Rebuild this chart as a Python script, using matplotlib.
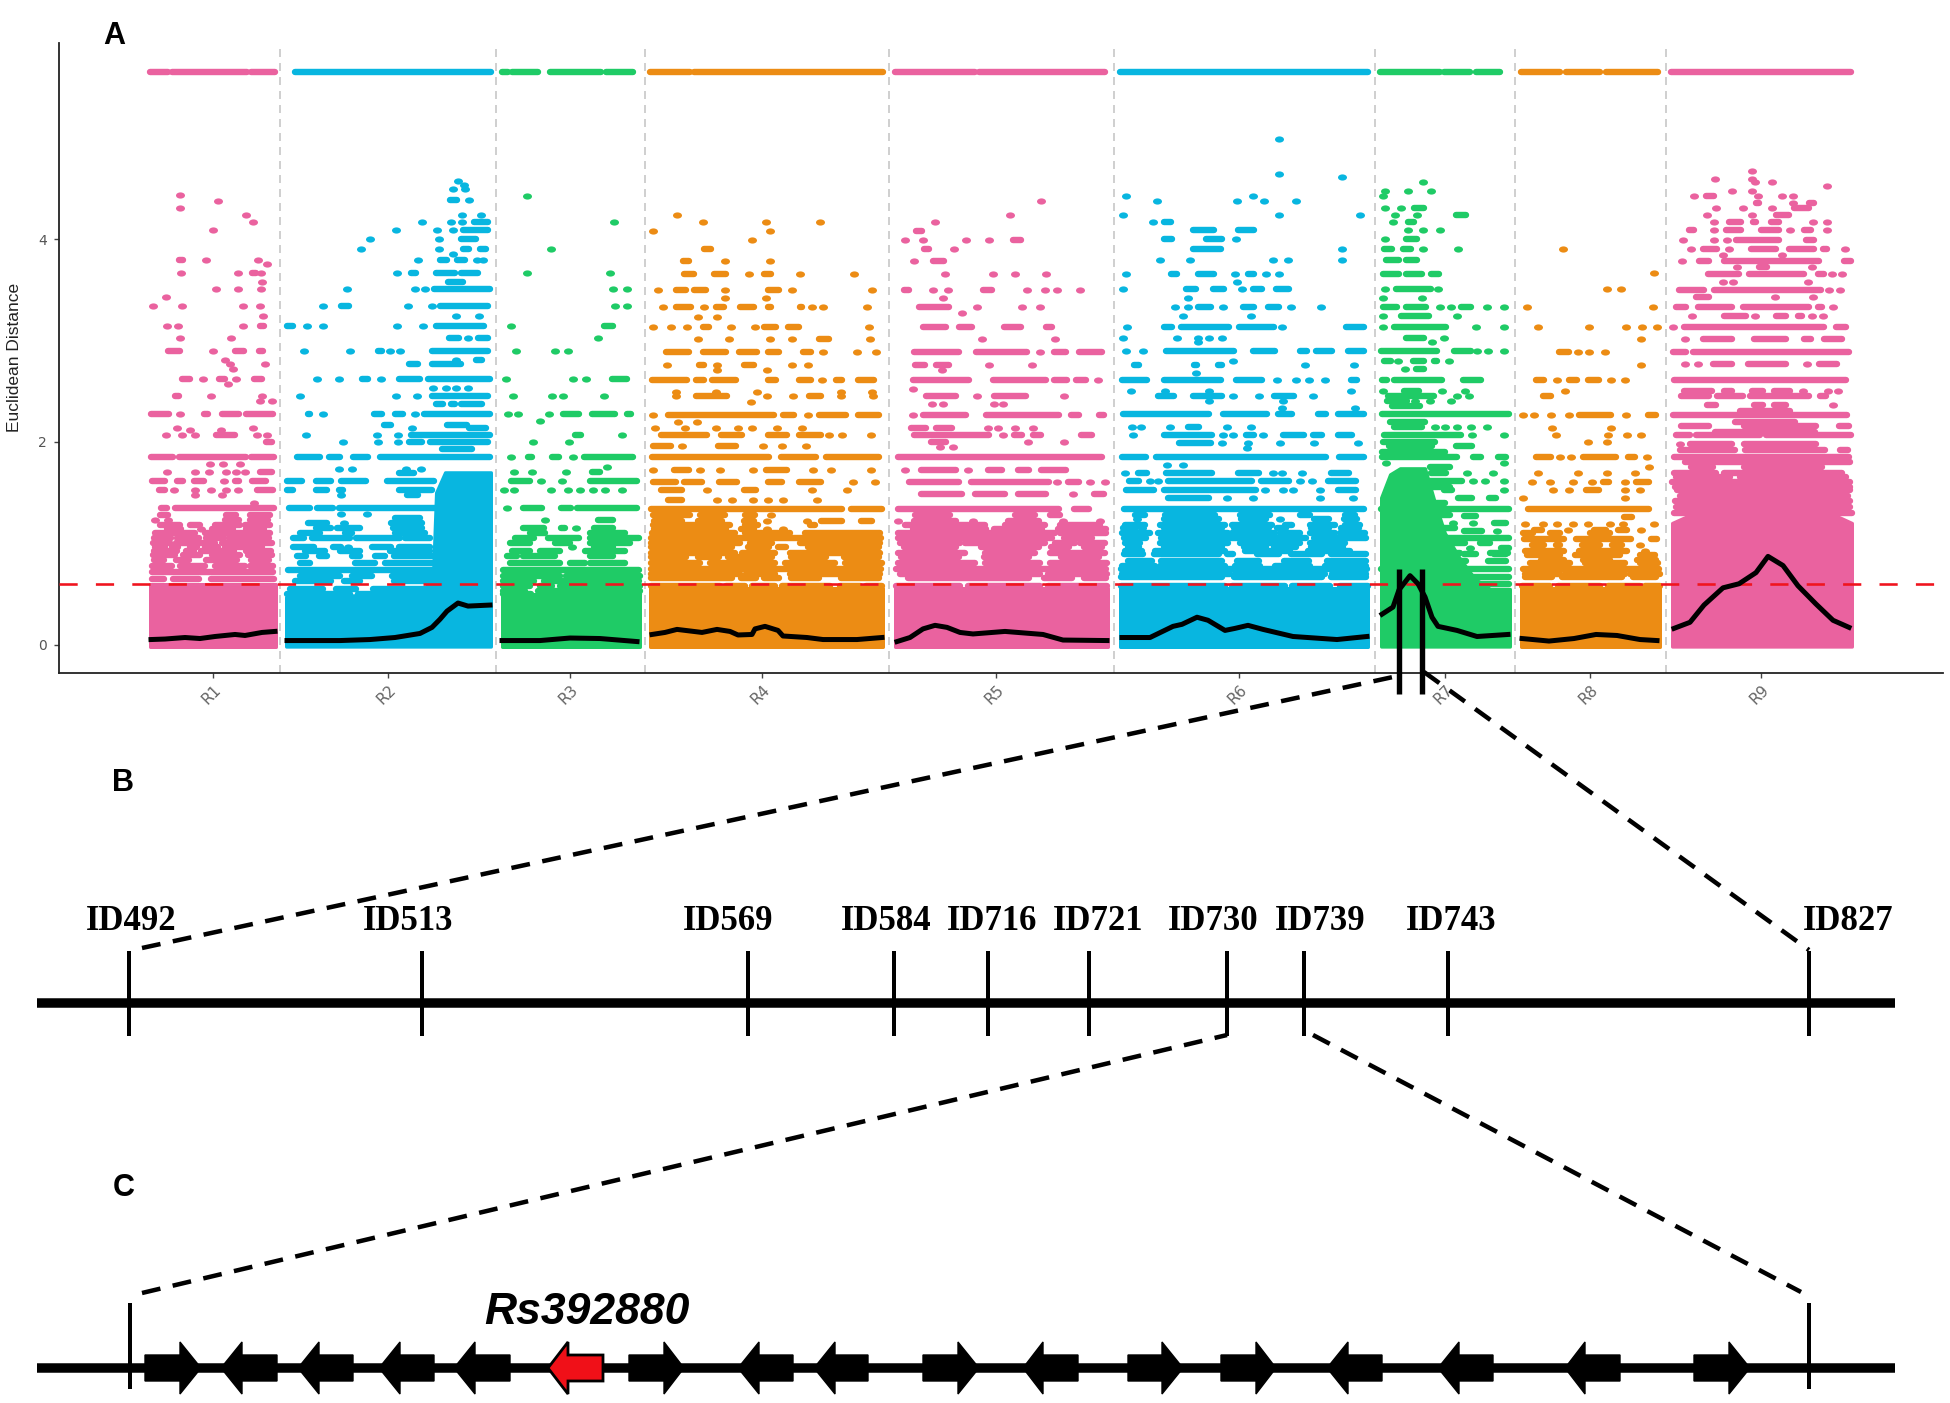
import matplotlib
matplotlib.use("Agg")
import matplotlib.pyplot as plt
from matplotlib.path import Path
from matplotlib.transforms import Affine2D

PINK = "#EA629F"
BLUE = "#08B6E0"
GREEN = "#1FCB66"
ORANGE = "#EC8C14"

regions = ["R1", "R2", "R3", "R4", "R5", "R6", "R7", "R8", "R9"]
region_colors = [PINK, BLUE, GREEN, ORANGE, PINK, BLUE, GREEN, ORANGE, PINK]
region_ticks = [213, 388, 570, 762, 996, 1239, 1445, 1590, 1761]
region_bounds = [280, 496, 645, 889, 1114, 1375, 1515, 1666]

# run of markers along the top (every locus)
top_value = 5.65
top_runs = [
    [(150, 168), (172, 247), (251, 275)],
    [(295, 491)],
    [(502, 508), (512, 538), (550, 601), (606, 633)],
    [(650, 690), (694, 883)],
    [(895, 975), (979, 1105)],
    [(1120, 1368)],
    [(1380, 1440), (1444, 1470), (1476, 1500)],
    [(1521, 1560), (1566, 1600), (1606, 1658)],
    [(1671, 1851)],
]

# solid part of each region: x position, upper edge
bulk_x = [
    [150, 276],
    [286, 330, 400, 425, 433, 436, 445, 491],
    [502, 640],
    [650, 883],
    [895, 1108],
    [1120, 1368],
    [1381, 1390, 1400, 1425, 1435, 1445, 1460, 1475, 1490, 1510],
    [1521, 1660],
    [1672, 1690, 1720, 1750, 1760, 1790, 1830, 1852],
]
bulk_top = [
    [0.6, 0.6],
    [0.47, 0.48, 0.5, 0.55, 0.7, 1.5, 1.7, 1.7],
    [0.5, 0.5],
    [0.56, 0.56],
    [0.56, 0.56],
    [0.56, 0.56],
    [1.45, 1.68, 1.74, 1.74, 1.4, 1.1, 0.85, 0.65, 0.55, 0.55],
    [0.56, 0.56],
    [1.2, 1.28, 1.35, 1.45, 1.5, 1.45, 1.3, 1.2],
]

# rows of points: (distance, items) with item = position or (from, to)
r1_rows = [
    (4.43, [179.5]), (4.37, [218]), (4.31, [179.5]), (4.24, [246]), (4.17, [253]), (4.09, [213]),
    (3.79, [(179, 183), 206, 258]), (3.75, [267]), (3.66, [181, 238, (252, 256), 261]), (3.58, [262]),
    (3.51, [216, 238, 261]), (3.43, [166]), (3.34, [152.5, 181.5, 243, 259.5]), (3.24, [263]),
    (3.14, [167, 178, 243, (260, 264)]), (3.02, [179.5, 230.5]),
    (2.9, [(168, 180), 213, (235, 244), (259, 263)]), (2.81, [225]), (2.77, [230, 265]), (2.72, [233]),
    (2.62, [(182, 190), 203, (219, 225), 235.5, (254, 262)]), (2.57, [228]),
    (2.45, [(175, 179), 211, 262]), (2.4, [260, 272]),
    (2.27, [(151, 169), 179.5, (204, 208), (222, 239), (246, 273)]), (2.14, [177, 253]), (2.12, [189.5, 220.5]),
    (2.07, [166, 181.5, 195, (216, 235), 257, 267]), (2.0, [(266, 272)]),
    (1.85, [(151, 173), (179, 246), (251, 274)]), (1.78, [210, 223, 240]),
    (1.7, [167, 195, 209, 226, 236, 245, (260, 272)]),
    (1.61, [(152, 165), (177, 183), (194, 204), 224, (235, 239), (252, 266)]),
    (1.52, [(159, 165), 174, 195, 211, 226, 238, (257, 273)]), (1.48, [195, 222]), (1.4, [254]),
    (1.35, [(161, 167), (175, 274)]), (1.23, [155, 168, (225, 239), (250, 268)]),
    (1.14, [(167, 181), 201, (212, 233), (246, 264)]),
    (1.05, [(154, 171), (177, 199), (206, 224), (229, 269)]),
    (0.96, [(155, 165), (172, 178), (190, 197), (205, 218), (225, 262)]),
    (0.92, [(154, 177), (186, 194), (201, 234), (246, 271)]),
    (0.83, [(154, 164), (176, 189), (206, 237), (251, 269)]),
    (0.72, [(152, 273)]), (0.65, [(152, 164), (173, 199), (211, 274)]),
]
r1_dense = [
    (1.28, [(160, 168), (226, 236), (250, 270)]), (1.18, [(160, 180), (190, 200), (215, 240), (245, 270)]),
    (1.1, [(155, 195), (205, 270)]), (1.0, [(153, 170), (176, 215), (222, 272)]),
    (0.88, [(153, 175), (183, 200), (212, 240), (248, 272)]), (0.78, [(152, 172), (180, 205), (215, 245), (250, 273)]),
]
r2_rows = [
    (4.57, [458]), (4.53, [464]), (4.49, [453, 465]), (4.38, [(450, 457), 468.5]), (4.24, [462, 481]),
    (4.17, [422, 451, 462, (474, 488)]), (4.09, [396, 437, 453, (463, 488)]), (4.0, [370, 439, (461, 476)]),
    (3.9, [361, 439, (463, 469), (480, 486)]), (3.85, [453]),
    (3.79, [418, (440, 447), (457, 465), 477, 483]),
    (3.66, [397, (411, 416), (436, 455), (461, 478)]), (3.58, [(448, 463)]),
    (3.51, [347, 415, 425, (434, 490)]), (3.34, [323, (341, 349), 407.5, 432, (440, 488)]), (3.24, [456, 479]),
    (3.14, [(287, 293), 307, 323, 397, 423, (436, 484)]), (3.02, [(449, 459), 468, (478, 488)]),
    (2.9, [304, 350, (378, 382), 390, 400, (432, 488)]), (2.81, [456, (476, 482)]),
    (2.77, [(409, 418), (432, 461)]),
    (2.62, [317, 339, (362, 368), 381, (399, 420), (428, 490)]), (2.53, [433, 446, 456, 468]),
    (2.45, [300, 396, 417, (432, 488)]), (2.37, [(436, 443), (451, 455), (461, 482)]),
    (2.27, [(308, 310), 323, (374, 382), (395, 403), 415, (424, 490)]),
    (2.17, [(384, 391), (447, 467)]), (2.14, [412, (469, 486)]),
    (2.07, [306, 377, 398, (411, 490)]), (2.0, [343, 378, 398, (409, 422), (430, 488)]), (1.93, [(442, 472)]),
    (1.85, [(297, 320), (329, 340), (353, 368), (380, 490)]), (1.73, [339, 352, 406, 421]),
    (1.69, [(399, 414)]),
    (1.61, [(287, 302), (316, 331), (341, 366), (387, 434)]),
    (1.52, [(287, 293), (316, 327), (339, 343), (399, 432)]), (1.48, [341, (407, 418)]),
    (1.35, [(289, 310), (317, 333), (339, 438)]), (1.29, [341, 367]),
    (1.2, [(308, 327), 344, (391, 422)]), (1.15, [(316, 331), (337, 360), (393, 422)]),
    (1.05, [(293, 304), (312, 350), (356, 400), (405, 430)]),
    (0.96, [(293, 314), (333, 341), 348, (372, 391), (399, 430)]),
    (0.87, [(297, 306), (319, 327), (352, 360), (375, 385), (394, 433)]),
    (0.74, [(288, 439)]),
    (0.63, [(295, 331), (344, 360), (394, 434)]), (0.55, [(290, 323), (336, 356), (373, 434)]),
]
r2_dense = [
    (1.1, [(300, 320), (345, 352), (395, 425)]), (1.25, [(395, 420)]), (0.92, [(305, 325), (340, 360), (390, 430)]),
    (0.8, [(300, 310), (355, 375), (385, 434)]), (0.68, [(300, 340), (352, 372), (392, 434)]),
    (0.5, [(287, 350), (358, 434)]),
]
r3_rows = [
    (4.42, [526.5]), (4.17, [613.6]), (3.9, [551]), (3.66, [526.5, 609.5]), (3.51, [613, 627]), (3.34, [615, 627]),
    (3.14, [511, (604, 613)]), (3.02, [597.5]), (2.9, [516, 555, 568]),
    (2.62, [506, 573, 586, (612, 627)]), (2.45, [513, 551.5, 563, 604]),
    (2.27, [508, 518, 549, (563, 579), (592, 615), (627, 631)]), (2.21, [540]), (2.07, [(575, 581), 622]),
    (2.0, [533, 569]), (1.85, [511, (528, 532), (552, 559), 573, (584, 633)]), (1.75, [607]),
    (1.7, [514, 532, 566, (592, 600)]), (1.61, [(511, 530), 541, 562, (590, 637)]),
    (1.52, [504, 514, 551, 568, 580, 593, 605, 622]),
    (1.35, [507, (523, 542), (561, 571), (577, 637)]), (1.23, [545, (598, 613)]),
    (1.15, [(523, 544), (561, 565), 576, (594, 613)]),
    (1.05, [(515, 534), (548, 579), (590, 639)]), (0.96, [572, (594, 613)]),
    (0.87, [(507, 517), (523, 555), (590, 613)]), (0.74, [(503, 639)]),
    (0.63, [(503, 534), (544, 639)]), (0.5, [(503, 531), (548, 639)]),
]
r3_dense = [
    (1.1, [(530, 545), (590, 625)]), (1.0, [(510, 530), (555, 570), (590, 630)]),
    (0.92, [(512, 530), (540, 560), (585, 625)]), (0.8, [(510, 560), (570, 585), (590, 625)]),
    (0.68, [(503, 560), (566, 640)]), (0.58, [(503, 530), (540, 552), (560, 640)]),
    (0.53, [(503, 525), (538, 640)]),
]
r4_rows = [
    (4.24, [677]), (4.17, [703, 766, 820]), (4.08, [653, 770]), (3.99, [752]), (3.9, [(704, 711)]),
    (3.78, [(683, 689), 725, 770]), (3.65, [(684, 694), (714, 726), 749, (764, 771), 800, 854]),
    (3.5, [658, (676, 686), (694, 706), 725, (768, 779), 792, 872]), (3.42, [725, 766]),
    (3.33, [663, (676, 691), 704, (716, 724), (740, 754), (768, 771), (800, 802), 812, 823, 867]),
    (3.23, [698, 717]),
    (3.13, [653, 671, 687, (703, 709), 731, 755, (764, 776), (788, 799), 869]),
    (3.01, [698, 729, 770, 792, (819, 829), 870]),
    (2.89, [(666, 689), (703, 726), (739, 757), (768, 779), (803, 811), 823, 857, 876]),
    (2.76, [667, (699, 704), 717, (744, 754), 792, 808]), (2.71, [717, 767]),
    (2.61, [(652, 687), (696, 704), (712, 736), (768, 776), (799, 811), 822, (836, 842), (858, 874)]),
    (2.49, [676, 716, 757, 841, 872]), (2.45, [676, (696, 727), 767, 793, (809, 821), 841, 873]), (2.39, [751]),
    (2.26, [653, (668, 774), (783, 794), 808, (819, 846), (858, 879)]), (2.2, [678, 697]),
    (2.14, [655, 685, 716, 738, 752, 777, 802]),
    (2.07, [(661, 707), (721, 742), (768, 787), (799, 821), 829, 842, 871]),
    (1.96, [(653, 671), 682, (718, 736), 763, 782, 806]),
    (1.85, [(652, 769), (781, 816), (826, 879)]),
    (1.72, [653, (674, 689), 700, 720, 753, (766, 787), 813, 831, 871]),
    (1.6, [(653, 676), (684, 702), (719, 737), (768, 782), (799, 821), 853, 875]),
    (1.52, [(661, 682), 707, (744, 756), 812, 847]), (1.43, [(668, 682), 717, 732, 753, 768, 783, 817]),
    (1.34, [(651, 842), (851, 882)]),
    (1.22, [(654, 682), (698, 722), (744, 754), 767, 807, (821, 842), (861, 872)]),
    (1.14, [(654, 726), (741, 754), 767, 783]), (1.05, [(651, 881)]),
    (0.96, [(651, 732), (748, 769), (778, 786), (808, 879)]),
    (0.86, [(651, 686), (698, 719), (728, 772), (791, 826), (844, 879)]), (0.75, [(651, 881)]),
    (0.66, [(651, 732), (741, 756), (764, 779), (791, 819), (841, 879)]),
]
r4_dense = [
    (1.28, [(653, 690), (700, 725), (745, 755), 771]), (1.18, [(653, 730), (745, 758), (810, 815)]),
    (1.1, [(652, 735), (745, 790), (805, 880)]), (1.0, [(651, 740), (750, 772), (800, 880)]),
    (0.9, [(651, 735), (742, 775), (790, 880)]), (0.8, [(651, 700), (710, 775), (785, 835), (845, 882)]),
    (0.7, [(651, 740), (746, 775), (790, 880)]),
    (0.58, [(651, 720), (726, 745), (752, 775), (782, 830), (840, 860), (866, 882)]),
]
r5_rows = [
    (4.37, [1041]), (4.24, [1010]), (4.17, [935]), (4.08, [(916, 922)]), (3.99, [905, 923, 966, 989, (1013, 1021)]),
    (3.9, [(924, 929), 954]), (3.78, [914, (933, 944)]), (3.65, [945, 993, 1015, 1046]),
    (3.5, [(904, 909), 933, 948, (983, 992), 1027, 1045, 1057, 1080]), (3.42, [943]),
    (3.33, [(919, 949), 977, 1022, 1040]), (3.27, [962]),
    (3.13, [(923, 946), (959, 972), (1004, 1021), (1046, 1052)]), (3.01, [982, 1055]),
    (2.89, [(914, 959), (976, 1027), 1040, (1054, 1066), (1079, 1102)]),
    (2.76, [(915, 925), (936, 949), 989, 1032]), (2.71, [942]),
    (2.61, [(913, 969), (993, 1046), (1054, 1067), (1076, 1086), 1098]), (2.52, [913]),
    (2.45, [(926, 956), 977, (994, 1026), 1064]), (2.37, [932, 943, 994, 1003]),
    (2.26, [913, (923, 966), (986, 1059), (1071, 1079), (1099, 1104)]),
    (2.14, [(911, 926), (936, 952), 988, 998, 1015, 1033]),
    (2.07, [(914, 989), 1003, (1014, 1022), (1033, 1041), (1081, 1092)]),
    (2.0, [(931, 946), 1028, 1064]), (1.95, [940, 953]), (1.85, [(898, 1102)]),
    (1.72, [905, (921, 956), 968, (988, 1002), (1018, 1029), (1041, 1066)]),
    (1.6, [(909, 959), (971, 1049), 1057, (1068, 1079), 1090, 1105]),
    (1.49, [(921, 962), (975, 1005), (1018, 1046), 1073, (1094, 1104)]),
    (1.34, [(898, 1059), (1074, 1089)]),
    (1.22, [898, (914, 956), 973, (1008, 1039), 1063, 1100]),
    (1.14, [(913, 986), (994, 1042), (1058, 1106)]), (1.05, [(898, 1052), (1064, 1092)]),
    (0.96, [(904, 956), (981, 1039), (1051, 1069), (1084, 1102)]),
    (0.86, [(901, 959), (984, 1029), (1061, 1099)]), (0.75, [(896, 1106)]),
    (0.66, [(908, 1029), (1044, 1072), (1084, 1106)]),
]
r5_dense = [
    (1.28, [(915, 950), (1015, 1035), (1050, 1060)]), (1.18, [(905, 985), (1005, 1045), (1060, 1100)]),
    (1.1, [(898, 1055), (1060, 1106)]), (1.0, [(900, 960), (965, 1045), (1055, 1075), (1080, 1105)]),
    (0.9, [(898, 965), (985, 1035), (1050, 1105)]), (0.8, [(898, 975), (985, 1040), (1050, 1107)]),
    (0.7, [(900, 1040), (1048, 1107)]), (0.58, [(896, 960), (968, 1040), (1048, 1107)]),
]
r6_rows = [
    (4.99, [1279]), (4.64, [1279]), (4.61, [1342]), (4.42, [1126, 1253]), (4.37, [1157, 1237, 1264, 1296]),
    (4.24, [1123, 1279, 1360]), (4.17, [1153, (1164, 1171)]), (4.09, [(1193, 1214), (1238, 1254)]),
    (4.0, [(1164, 1172), (1206, 1222), 1236]), (3.9, [(1193, 1221), 1342]),
    (3.79, [1160, 1190, 1273, 1288, 1342]),
    (3.65, [1126, (1171, 1177), (1198, 1214), 1235, (1248, 1254), 1266, 1279]), (3.58, [1237]),
    (3.51, [1123, (1186, 1196), (1213, 1224), 1242, (1253, 1262), (1276, 1289)]), (3.42, [1188]),
    (3.33, [1175, 1188, (1198, 1211), 1223, (1243, 1254), (1268, 1279), 1291, 1321]), (3.24, [1183, 1251]),
    (3.13, [1127, (1164, 1172), (1181, 1229), (1239, 1274), 1282, (1346, 1364)]),
    (3.02, [1123, 1177, 1198, 1209, 1222]), (2.98, [1198]),
    (2.9, [1126, 1143, (1166, 1234), (1253, 1275), (1300, 1307), (1316, 1332), (1348, 1364)]), (2.8, [1233]),
    (2.76, [(1134, 1139), (1194, 1197), (1218, 1222), 1305, 1354]), (2.68, [1196]),
    (2.61, [(1122, 1147), (1164, 1221), (1236, 1262), 1277, 1296, 1309, 1325, (1351, 1357)]),
    (2.5, [1131, 1165, 1209, 1351]),
    (2.45, [(1158, 1174), (1193, 1222), 1233, 1259, (1274, 1294), 1313]), (2.4, [1209, 1283]),
    (2.33, [1282, 1355]),
    (2.27, [(1123, 1209), (1223, 1267), (1278, 1292), (1318, 1326), (1338, 1364)]),
    (2.15, [1132, 1141, 1170, (1188, 1199), 1227, 1251]),
    (2.07, [1133, (1164, 1212), 1223, 1233, (1246, 1254), 1263, (1283, 1304), (1313, 1322), (1338, 1352)]),
    (1.99, [(1179, 1211), 1222, 1248, 1280, 1314, 1358]), (1.94, [1247]),
    (1.85, [(1122, 1146), (1156, 1326), (1339, 1364)]), (1.77, [1167, 1183]),
    (1.69, [1125, (1138, 1147), (1166, 1212), (1238, 1259), 1273, 1282, 1302, (1331, 1349)]),
    (1.61, [(1129, 1139), 1150, 1158, (1168, 1252), (1261, 1289), 1300, 1312, (1328, 1356)]),
    (1.52, [(1126, 1154), (1164, 1256), 1265, 1283, 1293, 1320, (1338, 1356)]),
    (1.45, [(1168, 1209), 1227, 1253, 1320, 1353]), (1.34, [(1124, 1364)]),
    (1.24, [1137, (1164, 1219), (1241, 1266), 1280, (1314, 1329), (1344, 1357)]),
    (1.15, [(1123, 1136), 1142, (1164, 1222), (1234, 1269), (1277, 1286), (1311, 1329), (1341, 1359)]),
    (1.05, [(1124, 1146), (1161, 1306), (1314, 1366)]),
    (0.96, [(1128, 1139), (1164, 1222), (1244, 1266), (1274, 1296), (1311, 1343)]),
    (0.89, [(1124, 1143), (1154, 1219), (1227, 1233), (1257, 1279), (1291, 1322), (1331, 1366)]),
    (0.82, [(1128, 1152), (1161, 1222), (1237, 1259), (1284, 1309), (1327, 1366)]),
    (0.75, [(1121, 1367)]), (0.67, [(1121, 1222), (1234, 1322), (1331, 1366)]),
]
r6_dense = [
    (1.28, [(1135, 1145), (1165, 1215), (1240, 1270), (1300, 1310), (1345, 1355)]),
    (1.18, [(1125, 1145), (1160, 1225), (1232, 1272), (1285, 1292), (1310, 1335), (1345, 1360)]),
    (1.1, [(1122, 1150), (1158, 1228), (1232, 1275), (1280, 1300), (1310, 1335), (1340, 1365)]),
    (1.0, [(1125, 1140), (1160, 1228), (1240, 1300), (1310, 1345)]),
    (0.92, [(1125, 1142), (1155, 1225), (1245, 1290), (1308, 1350)]),
    (0.78, [(1122, 1155), (1160, 1225), (1235, 1260), (1275, 1310), (1325, 1366)]),
    (0.7, [(1122, 1230), (1235, 1325), (1332, 1366)]),
    (0.58, [(1121, 1225), (1232, 1285), (1292, 1330), (1340, 1368)]),
]
r7_rows = [
    (4.56, [1423]), (4.47, [1385, 1408, 1431]), (4.42, [1383]), (4.31, [1385, 1401, (1414, 1424)]),
    (4.24, [1395, 1417, (1456, 1466)]), (4.17, [1393, (1408, 1414)]), (4.09, [1408, 1423, 1440]),
    (4.0, [1385, (1406, 1417)]), (3.9, [(1384, 1392), (1403, 1411), 1423, 1458]),
    (3.79, [(1386, 1399), (1406, 1417)]), (3.65, [(1383, 1399), (1406, 1422), (1431, 1439)]),
    (3.51, [1385, (1396, 1431), 1438]), (3.42, [1383, 1422]),
    (3.33, [(1383, 1397), (1406, 1426), 1440, 1451, (1461, 1471), 1487, 1504]), (3.24, [1383, (1401, 1429), 1457]),
    (3.13, [1383, (1394, 1446), 1476, 1504]), (3.02, [(1406, 1424), 1444]), (2.98, [1432]),
    (2.9, [(1381, 1437), (1454, 1471), 1477, 1488, 1504]),
    (2.8, [(1384, 1391), 1398, (1413, 1424), (1434, 1437), 1449]), (2.72, [1405, (1416, 1424)]),
    (2.61, [(1382, 1387), (1394, 1442), (1463, 1481)]), (2.5, [1383, (1404, 1419), 1442, 1465]),
    (2.45, [(1388, 1434), 1457, 1469]), (2.4, [(1387, 1407), 1415, 1430, 1451]), (2.27, [(1382, 1509)]),
    (2.15, [(1394, 1422), 1435, 1445, 1457, 1471, 1487]), (2.07, [(1384, 1461), 1472, 1504]),
    (1.96, [(1389, 1432), (1456, 1472)]), (1.85, [(1382, 1457), (1473, 1481), (1498, 1506)]), (1.79, [1386, 1504]),
    (1.69, [(1431, 1446), 1467, 1493]), (1.61, [(1428, 1462), 1473, 1485, 1504]),
    (1.52, [(1444, 1452), 1504]), (1.45, [(1458, 1472), (1489, 1496)]), (1.34, [(1381, 1509)]),
    (1.27, [(1464, 1476)]), (1.2, [1453, 1473, (1494, 1506)]), (1.12, [(1464, 1482), 1497]), (1.05, [(1444, 1509)]),
    (0.95, [1470, (1501, 1509)]), (0.89, [(1464, 1476), (1494, 1506)]), (0.82, [(1458, 1466), (1488, 1506)]),
    (0.75, [(1381, 1509)]), (0.67, [(1461, 1509)]),
]
r7_dense = [
    (2.35, [(1392, 1420)]), (2.2, [(1390, 1425)]), (2.0, [(1383, 1435)]), (1.9, [(1382, 1445)]),
    (1.75, [(1430, 1450)]), (1.55, [(1425, 1450)]), (1.4, [(1427, 1445)]), (1.28, [(1440, 1450)]),
    (1.15, [(1440, 1455)]), (1.0, [(1443, 1465), (1480, 1490)]), (0.9, [(1450, 1460), (1490, 1508)]),
    (0.6, [(1475, 1509)]),
]
r8_rows = [
    (3.9, [1563]), (3.66, [1654]), (3.51, [1607, 1621]), (3.33, [1527, 1653]), (3.13, [1538, 1589, 1626, 1642, 1657]),
    (3.01, [1641]), (2.89, [(1559, 1569), 1578, 1589, 1605]), (2.76, [1641]),
    (2.61, [(1536, 1544), 1557, (1569, 1577), (1588, 1599), 1611, 1625]), (2.5, [1565]), (2.45, [(1543, 1551)]),
    (2.26, [1523, 1534, 1551, 1569, (1579, 1611), 1626, (1648, 1656)]), (2.14, [1552, 1611]),
    (2.07, [1556, 1608, 1627, 1641]), (2.0, [1588, 1607]),
    (1.85, [(1536, 1551), 1560, 1571, (1583, 1616), (1628, 1635), 1647]), (1.75, [1649]),
    (1.69, [1538, 1578, 1607, 1635]), (1.6, [1532, 1550, 1573, 1592, (1603, 1609), 1625, (1636, 1649)]),
    (1.52, [1553, 1569, (1586, 1599), 1625, 1640]), (1.45, [1523, 1625]), (1.34, [(1528, 1649)]),
    (1.26, [(1624, 1632)]), (1.19, [1525, 1543, 1557, 1573, 1588, 1610, 1623, 1654]),
    (1.13, [(1534, 1542), 1568, (1594, 1606), (1618, 1627), 1641]),
    (1.04, [(1524, 1564), (1576, 1631), (1651, 1657)]),
    (0.98, [(1532, 1544), (1556, 1560), (1582, 1600), (1612, 1622), 1640]),
    (0.92, [(1525, 1564), (1579, 1627), 1645]), (0.83, [(1541, 1564), (1583, 1610), (1637, 1656)]),
    (0.75, [(1523, 1659)]), (0.67, [(1525, 1552), (1562, 1622), (1633, 1656)]),
]
r8_dense = [
    (1.1, [(1523, 1533), (1550, 1560), (1590, 1610)]), (0.88, [(1527, 1560), (1575, 1620), (1640, 1655)]),
    (0.8, [(1530, 1570), (1585, 1625), (1640, 1658)]), (0.7, [(1525, 1560), (1565, 1625), (1630, 1660)]),
    (0.58, [(1522, 1550), (1558, 1600), (1608, 1640), (1645, 1660)]),
]
r9_rows = [
    (4.67, [1752]), (4.59, [1715, 1752]), (4.56, [1755, 1772]), (4.52, [1827]), (4.47, [1732, 1752]),
    (4.42, [1694, (1706, 1714), 1758, 1782, 1793]), (4.36, [(1756, 1759), 1793, (1809, 1814)]),
    (4.31, [1716, 1743, 1772, (1794, 1809)]), (4.24, [1707, 1752, (1776, 1789)]),
    (4.17, [1714, (1729, 1741), (1753, 1756), (1771, 1779), 1813, 1827]),
    (4.09, [(1689, 1694), 1714, (1726, 1741), (1761, 1779), 1790, (1804, 1811), 1827]),
    (3.99, [1683, 1714, 1727, (1736, 1779), (1806, 1814)]),
    (3.9, [1691, (1703, 1717), 1729, (1751, 1776), (1789, 1814), (1823, 1827), 1845]), (3.84, [1723, 1782]),
    (3.78, [1682, (1699, 1709), (1724, 1819), (1844, 1851)]), (3.72, [1737, (1759, 1767), 1812]),
    (3.65, [(1708, 1739), (1749, 1804), (1818, 1824), 1832, 1842]), (3.58, [1723, 1733, 1808]),
    (3.5, [(1679, 1704), (1714, 1821), 1829, 1840]), (3.43, [(1696, 1709), 1775, 1813]),
    (3.33, [(1676, 1686), (1698, 1732), (1743, 1809), (1818, 1822), 1833]),
    (3.24, [1692, (1724, 1746), 1755, (1776, 1786), (1798, 1802), 1812, 1823]),
    (3.13, [1673, (1684, 1824), (1836, 1846)]),
    (3.01, [1685, (1703, 1732), (1754, 1786), (1804, 1811), (1824, 1842)]),
    (2.89, [(1673, 1686), (1693, 1849)]),
    (2.77, [1685, 1698, (1713, 1732), (1748, 1786), 1807, (1819, 1837)]), (2.61, [(1674, 1846)]),
    (2.5, [(1684, 1712), (1724, 1732), (1752, 1763), (1774, 1790), 1803, 1828, 1838]),
    (2.45, [(1681, 1709), (1717, 1743), (1750, 1809), (1820, 1826)]),
    (2.36, [(1707, 1716), (1754, 1763), (1774, 1786), 1833]), (2.26, [(1673, 1847)]),
    (2.16, [(1681, 1709), (1744, 1816), (1839, 1849)]),
    (2.07, [(1676, 1690), (1696, 1760), (1766, 1851)]),
    (1.98, [1680, (1690, 1732), (1744, 1816)]), (1.85, [(1674, 1849)]),
    (1.75, [(1691, 1713), (1744, 1822)]), (1.69, [(1674, 1716), (1724, 1842)]),
    (1.6, [(1672, 1850)]), (1.52, [(1677, 1850)]), (1.42, [(1675, 1850)]),
]
r9_dense = [
    (2.3, [(1740, 1790)]), (2.2, [(1735, 1795)]), (2.1, [(1715, 1815)]),
    (1.92, [(1680, 1735), (1745, 1825), (1840, 1848)]), (1.8, [(1685, 1850)]), (1.65, [(1676, 1730), (1740, 1846)]),
    (1.55, [(1675, 1850)]), (1.47, [(1680, 1848)]), (1.36, [(1676, 1850)]), (1.3, [(1674, 1852)]),
]
region_rows = [r1_rows + r1_dense, r2_rows + r2_dense, r3_rows + r3_dense, r4_rows + r4_dense, r5_rows + r5_dense,
               r6_rows + r6_dense, r7_rows + r7_dense, r8_rows + r8_dense, r9_rows + r9_dense]

# black smoothed line of each region
smooth_x = [
    [151, 165, 185, 200, 215, 235, 245, 262, 275],
    [287, 340, 370, 395, 420, 432, 440, 447, 458, 468, 490],
    [502, 540, 570, 600, 637],
    [652, 665, 677, 702, 717, 730, 738, 752, 755, 765, 778, 783, 807, 823, 857, 882],
    [897, 910, 923, 935, 947, 960, 973, 1005, 1043, 1063, 1107],
    [1122, 1150, 1173, 1182, 1197, 1208, 1225, 1235, 1248, 1263, 1293, 1337, 1367],
    [1382, 1393, 1399, 1410, 1418, 1425, 1432, 1438, 1457, 1477, 1508],
    [1522, 1549, 1574, 1596, 1617, 1640, 1657],
    [1674, 1690, 1704, 1723, 1739, 1756, 1768, 1783, 1798, 1816, 1833, 1849],
]
smooth_y = [
    [0.05, 0.055, 0.07, 0.06, 0.08, 0.1, 0.09, 0.12, 0.13],
    [0.04, 0.04, 0.05, 0.07, 0.11, 0.17, 0.25, 0.33, 0.41, 0.38, 0.39],
    [0.04, 0.04, 0.065, 0.06, 0.03],
    [0.1, 0.12, 0.15, 0.12, 0.15, 0.13, 0.095, 0.1, 0.155, 0.18, 0.14, 0.085, 0.07, 0.05, 0.05, 0.07],
    [0.03, 0.07, 0.155, 0.19, 0.17, 0.12, 0.105, 0.13, 0.1, 0.045, 0.04],
    [0.07, 0.07, 0.18, 0.2, 0.27, 0.24, 0.14, 0.16, 0.19, 0.15, 0.08, 0.05, 0.08],
    [0.3, 0.37, 0.54, 0.68, 0.6, 0.47, 0.27, 0.18, 0.14, 0.08, 0.1],
    [0.06, 0.035, 0.06, 0.1, 0.09, 0.05, 0.04],
    [0.16, 0.22, 0.39, 0.56, 0.6, 0.71, 0.87, 0.78, 0.58, 0.4, 0.24, 0.17],
]
threshold = 0.6

# panel B
marker_names = ["ID492", "ID513", "ID569", "ID584", "ID716", "ID721", "ID730", "ID739", "ID743", "ID827"]
marker_pos = [129, 422, 748, 894, 988, 1088.5, 1227, 1304, 1448, 1809]
marker_label_pos = [131, 408.5, 728, 886, 992, 1098, 1213, 1320, 1451.5, 1848]

# panel C: tail, neck and tip of the gene arrows
gene_tail = [145, 277, 353, 434, 510, 603, 629, 793, 868, 923, 1078, 1128, 1221, 1382, 1493, 1620, 1694]
gene_neck = [180, 242, 319, 400, 475, 568, 664, 759, 835, 958, 1043, 1162, 1256, 1348, 1459, 1585, 1729]
gene_tip = [201, 221, 298, 379, 454, 548, 684, 738, 814, 979, 1023, 1183, 1276, 1327, 1438, 1565, 1750]
red_gene = 5

PX = 72 / 100  # one pixel in points
W, H = 1950, 1403

fig = plt.figure(figsize=(W / 100, H / 100), dpi=100, facecolor="white")

ax_left, ax_right, ax_top, ax_bottom = 59, 1943, 43, 673
ax = fig.add_axes([ax_left / W, 1 - ax_bottom / H, (ax_right - ax_left) / W, (ax_bottom - ax_top) / H])
ax.set_xlim(ax_left, ax_right)
ax.set_ylim(-0.28, 5.933)

ellipse = Path.unit_circle().transformed(Affine2D().scale(1.45, 1))


def draw_rows(ax, rows, color):
    for value, items in rows:
        points = [i for i in items if not isinstance(i, tuple)]
        runs = [i for i in items if isinstance(i, tuple)]
        if points:
            ax.scatter(points, [value] * len(points), s=42, marker=ellipse, color=color, linewidths=0, zorder=2)
        if runs:
            ax.hlines([value] * len(runs), [r[0] for r in runs], [r[1] for r in runs], color=color,
                      linewidth=6.4 * PX, capstyle="round", zorder=2)


for b in region_bounds:
    ax.axvline(b, color="#d0d0d0", lw=2 * PX, ls=(0, (4, 3)), zorder=1)

for i, color in enumerate(region_colors):
    ax.fill_between(bulk_x[i], -0.02, bulk_top[i], color=color, linewidth=3 * PX, joinstyle="round", zorder=2)
    draw_rows(ax, [(top_value, top_runs[i])], color)
    draw_rows(ax, region_rows[i], color)
    ax.plot(smooth_x[i], smooth_y[i], color="black", lw=5 * PX, solid_joinstyle="round", zorder=4)

ax.axhline(threshold, color="#f0141e", lw=2.6 * PX, ls=(0, (7, 7)), zorder=3)

for s in ["top", "right"]:
    ax.spines[s].set_visible(False)
for s in ["left", "bottom"]:
    ax.spines[s].set_linewidth(1.8 * PX)
    ax.spines[s].set_color("#222222")
ax.set_yticks([0, 2, 4])
ax.set_yticklabels(["0", "2", "4"], fontsize=10, color="#555555", family="DejaVu Sans")
ax.set_xticks(region_ticks)
ax.set_xticklabels(regions, rotation=45, ha="right", rotation_mode="anchor", fontsize=11, color="#666666")
ax.tick_params(axis="x", length=3.5, width=1, color="#444444", pad=3)
ax.tick_params(axis="y", length=3.5, width=1, color="#444444", pad=5)

# panels B and C share one overlay in figure pixels
over = fig.add_axes([0, 0, 1, 1], facecolor="none")
over.set_xlim(0, W)
over.set_ylim(H, 0)
over.axis("off")

over.text(15, 357, "Euclidean Distance", rotation=90, fontsize=12.5, family="Liberation Sans", color="#222222",
          ha="center", va="center")

for letter, x, y in [("A", 114, 36), ("B", 123, 783), ("C", 124, 1188)]:
    over.text(x, y, letter, fontsize=22, fontweight="bold", family="Liberation Sans", ha="center", va="center")

# zoom bars and connectors
for x in [1399, 1421.5]:
    over.plot([x, x], [569, 694], color="black", lw=5.4 * PX, solid_capstyle="butt")
dash = (0, (4.2, 2.8))
over.plot([142, 1393], [948, 677], color="black", lw=4.5 * PX, ls=dash)
over.plot([1424, 1809], [672, 950], color="black", lw=4.5 * PX, ls=dash)
over.plot([142, 1227], [1293, 1035], color="black", lw=4.5 * PX, ls=dash)
over.plot([1313, 1801], [1035, 1292], color="black", lw=4.5 * PX, ls=dash)

# marker track
over.plot([37, 1895], [1003, 1003], color="black", lw=9.5 * PX, solid_capstyle="butt")
for name, x, lx in zip(marker_names, marker_pos, marker_label_pos):
    over.plot([x, x], [951, 1036], color="black", lw=4 * PX, solid_capstyle="butt")
    over.text(lx, 921, name, fontsize=25, fontweight="bold", family="Liberation Serif", ha="center", va="center")

# gene track
track_y = 1368
over.plot([37, 1895], [track_y, track_y], color="black", lw=9.5 * PX, solid_capstyle="butt")
for x in [129.5, 1809]:
    over.plot([x, x], [1303, 1389], color="black", lw=4 * PX, solid_capstyle="butt")
for i in range(len(gene_tail)):
    xs = [gene_tail[i], gene_neck[i], gene_neck[i], gene_tip[i], gene_neck[i], gene_neck[i], gene_tail[i]]
    ys = [track_y - 13, track_y - 13, track_y - 26, track_y, track_y + 26, track_y + 13, track_y + 13]
    if i == red_gene:
        over.fill(xs, ys, facecolor="#f01018", edgecolor="black", lw=2, zorder=3)
    else:
        over.fill(xs, ys, color="black", zorder=3)
over.text(587, 1313, "Rs392880", fontsize=32, fontweight="bold", style="italic", family="Liberation Sans",
          ha="center", va="center")

fig.savefig("out.png", dpi=100, facecolor="white")
